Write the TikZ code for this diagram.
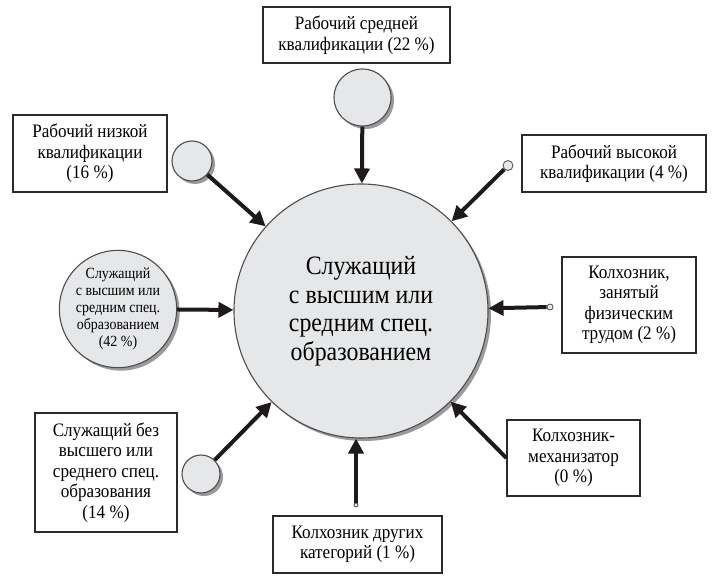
\documentclass[tikz,border=0pt]{standalone}
\usepackage{fontspec}
\setmainfont{Liberation Serif}[FakeStretch=0.9]
\usetikzlibrary{arrows.meta,shadows}
\definecolor{circfill}{HTML}{E6E7E9}
\definecolor{circline}{HTML}{4D4D4F}
\definecolor{shadowgray}{HTML}{9A9A9C}
\definecolor{arrowcol}{HTML}{1E1A1B}
\definecolor{boxline}{HTML}{2B2B2B}
\newcommand\bxfont{\fontsize{19}{20.5}\selectfont}
\newcommand\ctrfont{\fontsize{26.5}{28.5}\selectfont}
\newcommand\smfont{\fontsize{15.5}{17}\selectfont}
\begin{document}
\begin{tikzpicture}[x=1pt,y=-1pt,
  box/.style={draw=boxline, line width=1.3pt, fill=white, align=center, inner sep=2pt, font=\bxfont},
  bub/.style={circle, draw=circline, line width=1.1pt, fill=circfill, inner sep=0pt,
    drop shadow={shadow xshift=3pt, shadow yshift=-3pt, fill=shadowgray, opacity=1}},
  dotc/.style={circle, draw=circline, line width=0.8pt, fill=circfill, inner sep=0pt},
  feed/.style={draw=arrowcol, line width=4pt, -{Triangle[length=15pt,width=15pt]}}
]
\useasboundingbox (0,0) rectangle (712,583);
\fill[white] (0,0) rectangle (712,583);

% central circle
\node[bub, minimum size=254pt, font=\ctrfont, align=center] (main) at (361,311)
  {Служащий\\с высшим или\\средним спец.\\образованием};

% boxes
\node[box, minimum width=187pt, minimum height=56pt] (ba) at (356.5,35)
  {Рабочий средней\\квалификации (22 \%)};
\node[box, minimum width=154pt, minimum height=77pt] (bb) at (90,153.5)
  {Рабочий низкой\\квалификации\\(16 \%)};
\node[box, minimum width=184pt, minimum height=57pt] (bd) at (614,163.5)
  {Рабочий высокой\\квалификации (4 \%)};
\node[box, minimum width=134pt, minimum height=96pt] (be) at (629,305)
  {Колхозник,\\занятый\\физическим\\трудом (2 \%)};
\node[box, minimum width=142pt, minimum height=119pt] (bf) at (106,472.5)
  {Служащий без\\высшего или\\среднего спец.\\образования\\(14 \%)};
\node[box, minimum width=169pt, minimum height=57pt] (bg) at (357.5,544.5)
  {Колхозник других\\категорий (1 \%)};
\node[box, minimum width=133pt, minimum height=76pt] (bh) at (573.5,458)
  {Колхозник-\\механизатор\\(0 \%)};

% share circles
\node[bub, minimum size=57pt] (ca) at (362.5,97.5) {};
\node[bub, minimum size=40pt] (cb) at (192,161) {};
\node[bub, minimum size=106pt, font=\smfont, align=center] (cc) at (118,309)
  {Служащий\\с высшим или\\средним спец.\\образованием\\(42 \%)};
\node[dotc, minimum size=10pt] (cd) at (508,165.5) {};
\node[dotc, minimum size=6pt] (ce) at (550,307) {};
\node[bub, minimum size=38pt] (cf) at (201,474) {};
\node[dotc, minimum size=4pt] (cg) at (356,505) {};

% arrows
\draw[feed] (ca) -- (main);
\draw[feed] (cb) -- (main);
\draw[feed] (cc) -- (main);
\draw[feed] (cd) -- (main);
\draw[feed] (ce) -- (main);
\draw[feed] (cf) -- (main);
\draw[feed] (cg) -- (cg |- main.south);
\draw[feed] (bh.west) -- (main);
\end{tikzpicture}
\end{document}
